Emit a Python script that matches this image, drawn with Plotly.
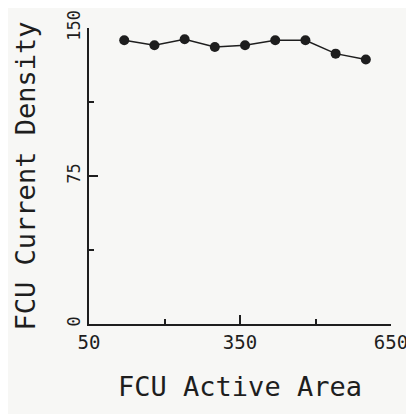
import plotly.graph_objects as go

area = [120, 180, 240, 300, 360, 420, 480, 540, 600]
density = [143.8, 141.3, 144.3, 140.4, 141.3, 143.8, 143.8, 137.0, 134.0]
x_ticks = [50, 350, 650]
y_ticks = [0, 75, 150]

ink = "#1e1e1e"
font_family = "DejaVu Sans Mono"

fig = go.Figure()
fig.add_trace(go.Scatter(
    x=area, y=density, mode="lines+markers",
    line=dict(color=ink, width=1.5),
    marker=dict(color=ink, size=10),
    showlegend=False,
))

# the page body has an 8px margin, so the figure is sized to fit the 414px window
fig.update_layout(
    width=406, height=406,
    margin=dict(l=81, r=23, t=20, b=90),
    paper_bgcolor="#f7f7f5", plot_bgcolor="#f7f7f5",
    font=dict(family=font_family, color=ink),
    xaxis=dict(
        range=[50, 650], tickvals=x_ticks, ticktext=[str(v) for v in x_ticks],
        automargin=False, ticklabeloverflow="allow",
        showgrid=False, zeroline=False, showline=True, linecolor=ink, linewidth=1.5,
        ticks="inside", ticklen=9, tickwidth=1.5, tickcolor=ink,
        minor=dict(tickvals=[200, 500], ticks="inside", ticklen=5, tickwidth=1.5, tickcolor=ink),
        tickfont=dict(size=19, family=font_family, color=ink),
        title=dict(text="FCU Active Area", font=dict(size=27, family=font_family, color=ink), standoff=26),
    ),
    yaxis=dict(
        range=[0, 150], tickvals=y_ticks, ticktext=[str(v) for v in y_ticks],
        automargin=False, ticklabeloverflow="allow",
        showgrid=False, zeroline=False, showline=True, linecolor=ink, linewidth=1.5,
        ticks="inside", ticklen=9, tickwidth=1.5, tickcolor=ink,
        minor=dict(tickvals=[37.5, 112.5], ticks="inside", ticklen=5, tickwidth=1.5, tickcolor=ink),
        tickangle=-90,
        tickfont=dict(size=17, family=font_family, color=ink),
        title=dict(text="FCU Current Density", font=dict(size=27, family=font_family, color=ink), standoff=21),
    ),
)

fig.write_html("out.html")
